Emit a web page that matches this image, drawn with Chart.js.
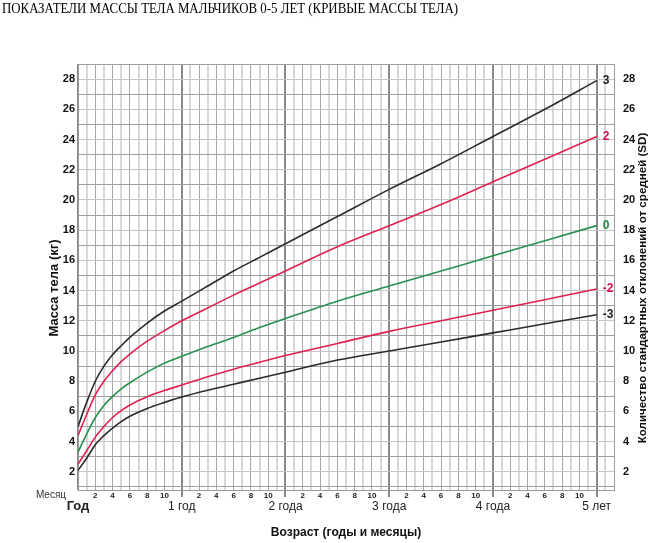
<!DOCTYPE html>
<html>
<head>
<meta charset="utf-8">
<script src="https://cdn.jsdelivr.net/npm/chart.js@4.4.1/dist/chart.umd.min.js"></script>
<style>
  html, body { margin: 0; padding: 0; background: #fff; }
</style>
</head>
<body>
<canvas id="chart" width="655" height="543"></canvas>
<script>
const chartTitle = 'ПОКАЗАТЕЛИ МАССЫ ТЕЛА МАЛЬЧИКОВ 0-5 ЛЕТ (КРИВЫЕ МАССЫ ТЕЛА)';
const yTitle = 'Масса тела (кг)';
const y2Title = 'Количество стандартных отклонений от средней (SD)';
const xTitle = 'Возраст (годы и месяцы)';
const monthWord = 'Месяц';
const yearLabels = ['Год', '1 год', '2 года', '3 года', '4 года', '5 лет'];

// age in months
const months   = [0,   1,   2,   3,   4,    5,     6,     8,     10,    12,    15,    18,   21,    24,   30,   36,   42,   48,   54,   60];
const sdPlus3  = [5.0, 6.6, 8.0, 9.0, 9.75, 10.35, 10.9,  11.85, 12.65, 13.3,  14.3,  15.3, 16.2,  17.1, 18.9, 20.7, 22.4, 24.2, 26.0, 27.9];
const sdPlus2  = [4.4, 5.8, 7.1, 8.0, 8.7,  9.3,   9.8,   10.65, 11.35, 12.0,  12.85, 13.7, 14.5,  15.3, 16.9, 18.3, 19.7, 21.2, 22.7, 24.2];
const sdMedian = [3.3, 4.5, 5.6, 6.4, 7.0,  7.5,   7.9,   8.6,   9.2,   9.65,  10.3,  10.9, 11.55, 12.15,13.3, 14.3, 15.3, 16.3, 17.3, 18.3];
const sdMinus2 = [2.5, 3.4, 4.3, 5.0, 5.6,  6.05,  6.43,  6.98,  7.38,  7.75,  8.3,   8.8,  9.25,  9.7,  10.5, 11.3, 12.0, 12.7, 13.4, 14.1];
const sdMinus3 = [2.1, 2.9, 3.8, 4.4, 4.9,  5.33,  5.68,  6.2,   6.6,   6.95,  7.4,   7.8,  8.2,   8.6,  9.4,  10.0, 10.6, 11.2, 11.8, 12.4];

const seriesNames = ['3', '2', '0', '-2', '-3'];
const seriesValues = [sdPlus3, sdPlus2, sdMedian, sdMinus2, sdMinus3];
const lineColors = ['#2b2b2b', '#e0214f', '#27904f', '#e0214f', '#2b2b2b'];
const labelColors = ['#222222', '#d6124a', '#1f8a40', '#d6124a', '#222222'];

const NARROW = '"Liberation Sans Narrow", "Arial Narrow", "Liberation Sans", Arial, sans-serif';
const SANS = '"Liberation Sans", Arial, sans-serif';

const datasets = seriesValues.map((vals, i) => ({
  label: seriesNames[i],
  data: months.map((m, j) => ({ x: m, y: vals[j] })),
  borderColor: lineColors[i],
  borderWidth: 1.6,
  borderJoinStyle: 'round',
  pointRadius: 0,
  cubicInterpolationMode: 'monotone',
  fill: false
}));

const textPlugin = {
  id: 'texts',
  afterDatasetsDraw(chart) {
    const { ctx } = chart;
    ctx.save();
    ctx.font = 'bold 12px ' + NARROW;
    ctx.textAlign = 'left';
    ctx.textBaseline = 'middle';
    chart.data.datasets.forEach((ds, i) => {
      const meta = chart.getDatasetMeta(i);
      const pt = meta.data[meta.data.length - 1];
      ctx.fillStyle = labelColors[i];
      ctx.fillText(seriesNames[i], pt.x + 6, pt.y);
    });
    ctx.restore();
  },
  afterDraw(chart) {
    const { ctx } = chart;
    ctx.save();
    ctx.fillStyle = '#000';
    ctx.font = '15px "Liberation Serif", "Times New Roman", serif';
    ctx.textAlign = 'left';
    ctx.textBaseline = 'alphabetic';
    ctx.fillText(chartTitle, 2, 13, 456);

    ctx.fillStyle = '#333';
    ctx.font = '10px ' + NARROW;
    ctx.textAlign = 'center';
    ctx.textBaseline = 'middle';
    ctx.fillText(monthWord, 51, 495);

    ctx.fillStyle = '#111';
    ctx.font = 'bold 13px ' + SANS;
    ctx.save();
    ctx.translate(54, 288);
    ctx.rotate(-Math.PI / 2);
    ctx.fillText(yTitle, 0, 0);
    ctx.restore();

    ctx.font = 'bold 11.6px ' + SANS;
    ctx.save();
    ctx.translate(643, 288);
    ctx.rotate(-Math.PI / 2);
    ctx.fillText(y2Title, 0, 0);
    ctx.restore();
    ctx.restore();
  }
};

const evenLabel = v => (v % 2 === 0 && v >= 2 && v <= 28) ? String(v) : '';

new Chart(document.getElementById('chart'), {
  type: 'line',
  data: { datasets },
  plugins: [textPlugin],
  options: {
    responsive: false,
    animation: false,
    devicePixelRatio: 1,
    layout: { padding: { top: 64, left: 0, right: 0, bottom: 0 } },
    plugins: { legend: { display: false }, tooltip: { enabled: false }, title: { display: false } },
    scales: {
      x: {
        type: 'linear',
        position: 'bottom',
        min: 0,
        max: 62,
        afterFit: s => { s.height = 9; },
        ticks: {
          stepSize: 1,
          autoSkip: false,
          maxRotation: 0,
          includeBounds: false,
          padding: -6,
          color: '#222',
          font: { family: NARROW, size: 8, weight: 'bold' },
          callback: v => (v % 2 === 0 && v % 12 !== 0 && v < 60) ? String(v % 12) : ''
        },
        grid: {
          tickLength: 7,
          tickWidth: 2,
          tickColor: c => (c.tick && c.tick.value % 12 === 0 && c.tick.value > 0) ? '#8a8a8a' : 'rgba(0,0,0,0)',
          color: c => {
            const v = c.tick.value;
            if (v % 12 === 0) return '#8a8a8a';
            return v % 2 === 0 ? '#a8a8a8' : '#d8d8d8';
          },
          lineWidth: c => {
            const v = c.tick.value;
            if (v % 12 === 0) return 2;
            return v % 2 === 0 ? 1 : 2;
          }
        },
        border: { color: '#9a9a9a', width: 1 }
      },
      x2: {
        type: 'linear',
        position: 'bottom',
        min: 0,
        max: 62,
        afterFit: s => { s.height = 44; },
        ticks: {
          stepSize: 12,
          autoSkip: false,
          maxRotation: 0,
          includeBounds: false,
          padding: 0,
          color: '#222',
          font: c => (c.tick && c.tick.value === 0)
            ? { family: NARROW, size: 13, weight: 'bold' }
            : { family: NARROW, size: 12 },
          callback: v => yearLabels[v / 12] || ''
        },
        grid: { display: false, drawTicks: false },
        border: { display: false },
        title: {
          display: true,
          text: xTitle,
          color: '#111',
          font: { family: NARROW, size: 12, weight: 'bold' },
          padding: { top: 0, bottom: 3 }
        }
      },
      y: {
        type: 'linear',
        position: 'left',
        min: 0.8,
        max: 29,
        afterFit: s => { s.width = 78; },
        ticks: {
          stepSize: 1,
          autoSkip: false,
          includeBounds: false,
          padding: 3,
          color: '#111',
          font: { family: NARROW, size: 11, weight: 'bold' },
          callback: evenLabel
        },
        grid: {
          drawTicks: false,
          color: c => (c.tick.value % 2 !== 0) ? '#a0a0a0' : '#c6c6c6',
          lineWidth: 1
        },
        border: { color: '#9a9a9a', width: 1 }
      },
      y2: {
        type: 'linear',
        position: 'right',
        min: 0.8,
        max: 29,
        afterFit: s => { s.width = 41; },
        ticks: {
          stepSize: 1,
          autoSkip: false,
          includeBounds: false,
          padding: 9,
          color: '#111',
          font: { family: NARROW, size: 11, weight: 'bold' },
          callback: evenLabel
        },
        grid: { drawOnChartArea: false, drawTicks: false },
        border: { color: '#9a9a9a', width: 1 }
      }
    }
  }
});
</script>
</body>
</html>
